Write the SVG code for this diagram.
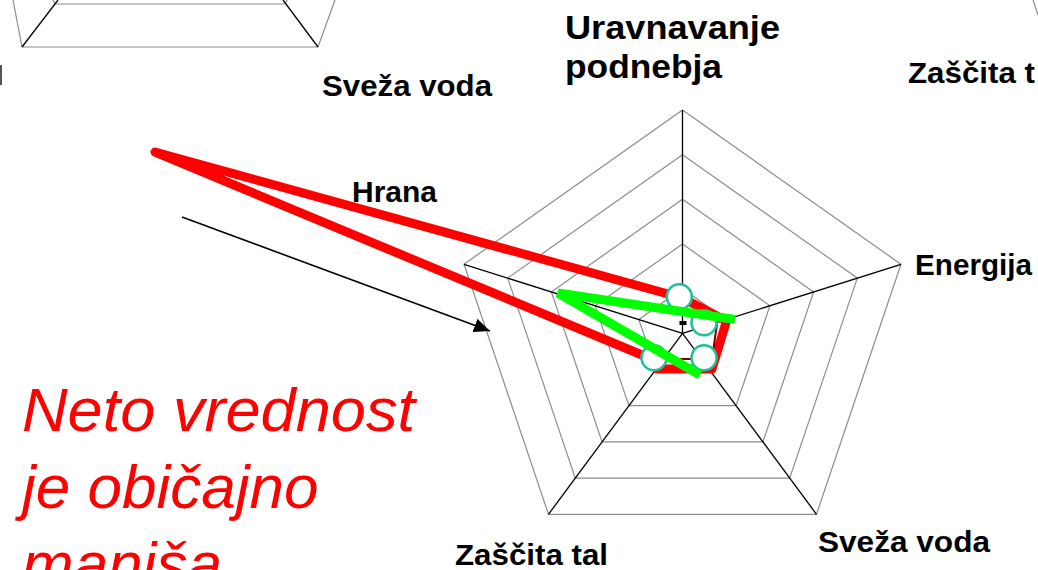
<svg xmlns="http://www.w3.org/2000/svg" width="1038" height="570" viewBox="0 0 1038 570">
<defs>
<style>
.grid{fill:none;stroke:#8c8c8c;stroke-width:1.2}
.axis{fill:none;stroke:#000;stroke-width:1.3}
.lbl{font-family:"Liberation Sans",Arial,sans-serif;font-weight:bold;font-size:30px;fill:#000}
.big{font-family:"Liberation Sans",Arial,sans-serif;font-style:italic;font-size:62px;fill:#ff0000}
.mk{fill:#fff;stroke:#1fbf9a;stroke-width:2.5}
</style>
<marker id="ah" markerUnits="userSpaceOnUse" markerWidth="18" markerHeight="14" refX="16" refY="7" orient="auto">
<path d="M0,0 L16,7 L0,14 Z" fill="#000"/>
</marker>
</defs>
<rect width="1038" height="570" fill="#fff"/>

<g id="partial-chart-left">
<polyline class="grid" points="13,0 22,47 318,47 335,0"/>
<polyline class="grid" points="53,0 55,4 285,4 287,0"/>
<line class="axis" x1="58" y1="0" x2="22" y2="47"/>
<line class="axis" x1="283" y1="0" x2="318" y2="47"/>
<rect x="0" y="65" width="2" height="20" fill="#555"/>
</g>
<g id="partial-chart-right">
<line class="grid" x1="1033" y1="0" x2="1038" y2="15"/>
<text class="lbl" x="908" y="83" textLength="127" lengthAdjust="spacingAndGlyphs">Zaščita t</text>
</g>

<g id="radar-grid">
<polygon class="grid" points="682.5,110 901,264.3 816.5,514.3 548.5,514.3 464,264.3"/>
<polygon class="grid" points="682.5,154.7 857.3,278.1 789.7,478.1 575.3,478.1 507.7,278.1"/>
<polygon class="grid" points="682.5,199.3 813.6,291.9 762.9,441.9 602.1,441.9 551.4,291.9"/>
<polygon class="grid" points="682.5,244 769.9,305.7 736.1,405.7 628.9,405.7 595.1,305.7"/>
<polygon class="grid" points="682.5,288.6 726.2,319.5 709.3,369.5 655.7,369.5 638.8,319.5"/>
<line class="axis" x1="682.5" y1="333.3" x2="682.5" y2="110"/>
<line class="axis" x1="682.5" y1="333.3" x2="901" y2="264.3"/>
<line class="axis" x1="682.5" y1="333.3" x2="816.5" y2="514.3"/>
<line class="axis" x1="682.5" y1="333.3" x2="548.5" y2="514.3"/>
<line class="axis" x1="682.5" y1="333.3" x2="464" y2="264.3"/>
<rect x="679.5" y="321" width="7" height="4" fill="#000"/>
</g>

<g id="labels">
<text id="lbl-uravnavanje" class="lbl" x="565" y="39" style="font-size:34px" textLength="215" lengthAdjust="spacingAndGlyphs">Uravnavanje</text>
<text id="lbl-podnebja" class="lbl" x="565" y="78" style="font-size:34px" textLength="157" lengthAdjust="spacingAndGlyphs">podnebja</text>
<text id="lbl-sveza-top" class="lbl" x="322" y="96" textLength="170" lengthAdjust="spacingAndGlyphs">Sveža voda</text>
<text id="lbl-hrana" class="lbl" x="352" y="202" textLength="85" lengthAdjust="spacingAndGlyphs">Hrana</text>
<text id="lbl-energija" class="lbl" x="915" y="275" textLength="117" lengthAdjust="spacingAndGlyphs">Energija</text>
<text id="lbl-sveza-bottom" class="lbl" x="818" y="552" textLength="172" lengthAdjust="spacingAndGlyphs">Sveža voda</text>
<text id="lbl-zascita" class="lbl" x="455" y="565" textLength="153" lengthAdjust="spacingAndGlyphs">Zaščita tal</text>
</g>

<g id="note">
<text class="big" x="22" y="431" textLength="393" lengthAdjust="spacingAndGlyphs">Neto vrednost</text>
<text class="big" x="22" y="508">je običajno</text>
<text class="big" x="22" y="585">manjša</text>
</g>

<g id="connectors">
<polygon points="155,152 682.5,298 726.5,321 712,369 657,369 654,360" fill="none" stroke="#ff0000" stroke-width="9" stroke-linejoin="round"/>
<polyline points="717,324 712,359 657,359" fill="none" stroke="#800000" stroke-width="2"/>
<circle class="mk" cx="679.3" cy="296.7" r="12.5"/>
<circle class="mk" cx="704" cy="322.7" r="12.5"/>
<circle class="mk" cx="704" cy="357.7" r="12.5"/>
<circle class="mk" cx="654" cy="357.7" r="12.5"/>
<polyline points="735,319.5 558,293 700,375" fill="none" stroke="#00ff00" stroke-width="9" stroke-linejoin="miter"/>
<line x1="182" y1="217" x2="490" y2="331" stroke="#000" stroke-width="1.6" marker-end="url(#ah)"/>
</g>
</svg>
